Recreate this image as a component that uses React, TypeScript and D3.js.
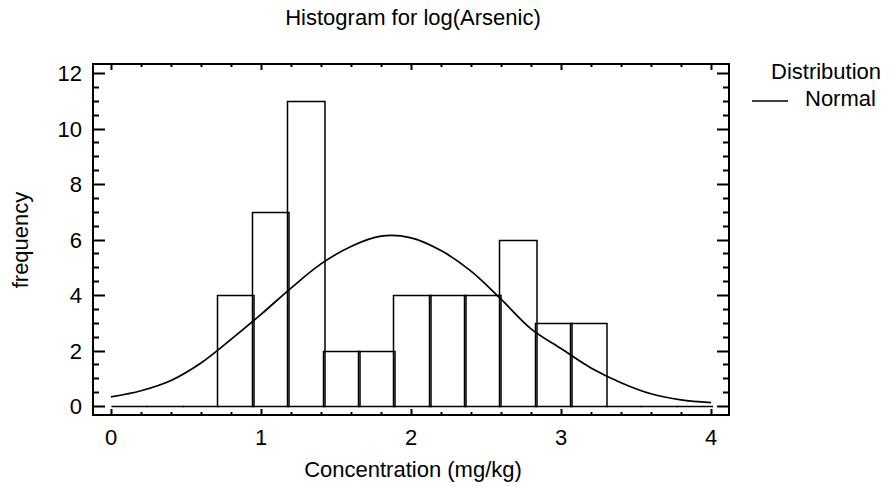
import React from "react";
import * as d3 from "d3";

const W = 891;
const H = 487;

// Histogram: 17 equal bins spanning 0..4
const binStart = 0;
const binEnd = 4;
const counts = [0, 0, 0, 4, 7, 11, 2, 2, 4, 4, 4, 6, 3, 3, 0, 0, 0];

// Fitted normal curve
const curveX = [0, 0.2, 0.4, 0.6, 0.8, 1.0, 1.2, 1.4, 1.6, 1.8, 2.0, 2.2, 2.4, 2.6, 2.8, 3.0, 3.2, 3.4, 3.6, 3.8, 4.0];
const curveY = [0.33, 0.55, 0.92, 1.55, 2.4, 3.3, 4.25, 5.12, 5.75, 6.12, 6.06, 5.6, 4.86, 3.85, 2.78, 2.07, 1.37, 0.84, 0.44, 0.22, 0.12];

const xTicks = [0, 1, 2, 3, 4];
const yTicks = [0, 2, 4, 6, 8, 10, 12];

const title = "Histogram for log(Arsenic)";
const xLabel = "Concentration (mg/kg)";
const yLabel = "frequency";
const legendTitle = "Distribution";
const legendItem = "Normal";

const FONT = "'Liberation Sans', Arial, Helvetica, sans-serif";
const FS = 22;

export default function App() {
  const frame = { left: 93, right: 729, top: 64, bottom: 415 };
  const x = d3.scaleLinear().domain([0, 4]).range([111, 711]);
  const y = d3.scaleLinear().domain([0, 12]).range([406, 73]);

  const nb = counts.length;
  const bw = (binEnd - binStart) / nb;

  const bars = counts.map((c, i) => {
    const x0 = Math.round(x(binStart + i * bw)) + 0.5;
    const x1 = Math.round(x(binStart + (i + 1) * bw)) + 2;
    const y0 = Math.round(y(0)) + 0.5;
    const y1 = Math.round(y(c)) + 0.5;
    return `M${x0},${y0}V${y1}H${x1}V${y0}Z`;
  });

  const line = d3
    .line<number>()
    .x((_, i) => x(curveX[i]))
    .y((d) => y(d))
    .curve(d3.curveCatmullRom);

  const xMinor = d3.range(0, 4.0001, 0.2).map((v) => +v.toFixed(2));
  const yMinor = d3.range(0, 12.0001, 0.5);

  return (
    <svg
      width={W}
      height={H}
      style={{ position: "absolute", left: 0, top: 0, background: "#fff" }}
      fontFamily={FONT}
    >
      <rect x={0} y={0} width={W} height={H} fill="#fff" />
      <text x={413} y={25} textAnchor="middle" fontSize={FS} fill="#000">
        {title}
      </text>

      {/* bars */}
      {bars.map((d, i) => (
        <path key={i} d={d} fill="none" stroke="#000" strokeWidth={1.5} />
      ))}

      {/* normal curve */}
      <path d={line(curveY) || ""} fill="none" stroke="#000" strokeWidth={1.7} />

      {/* ticks */}
      {xMinor.map((v, i) => {
        const major = Math.abs(v - Math.round(v)) < 1e-6;
        const len = major ? 6 : 3;
        const px = Math.round(x(v)) + 0.5;
        return (
          <g key={"xt" + i}>
            <line x1={px} x2={px} y1={frame.bottom} y2={frame.bottom - len} stroke="#000" strokeWidth={2} />
            <line x1={px} x2={px} y1={frame.top} y2={frame.top + len} stroke="#000" strokeWidth={2} />
          </g>
        );
      })}
      {yMinor.map((v, i) => {
        const major = Math.abs(v / 2 - Math.round(v / 2)) < 1e-6;
        const len = major ? 12 : 6;
        const py = Math.round(y(v)) + 0.5;
        return (
          <g key={"yt" + i}>
            <line x1={frame.left} x2={frame.left + len} y1={py} y2={py} stroke="#000" strokeWidth={2} />
            <line x1={frame.right} x2={frame.right - len} y1={py} y2={py} stroke="#000" strokeWidth={2} />
          </g>
        );
      })}

      {/* frame */}
      <rect
        x={frame.left}
        y={frame.top}
        width={frame.right - frame.left}
        height={frame.bottom - frame.top}
        fill="none"
        stroke="#000"
        strokeWidth={2}
      />

      {/* tick labels */}
      {xTicks.map((v) => (
        <text key={"xl" + v} x={x(v)} y={445} textAnchor="middle" fontSize={FS} fill="#000">
          {v}
        </text>
      ))}
      {yTicks.map((v) => (
        <text key={"yl" + v} x={82} y={y(v) + 8} textAnchor="end" fontSize={FS} fill="#000">
          {v}
        </text>
      ))}

      <text x={413} y={477} textAnchor="middle" fontSize={FS} fill="#000">
        {xLabel}
      </text>
      <text
        transform={`translate(28,240) rotate(-90)`}
        textAnchor="middle"
        fontSize={FS}
        fill="#000"
      >
        {yLabel}
      </text>

      {/* legend */}
      <text x={771} y={79} fontSize={FS} fill="#000">
        {legendTitle}
      </text>
      <line x1={752} x2={788} y1={101} y2={101} stroke="#000" strokeWidth={1.7} />
      <text x={805} y={106} fontSize={FS} fill="#000">
        {legendItem}
      </text>
    </svg>
  );
}
